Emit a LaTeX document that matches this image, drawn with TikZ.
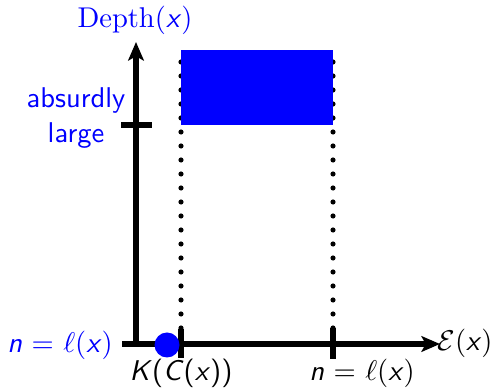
\documentclass[tikz,border=0pt]{standalone}
\usetikzlibrary{arrows.meta}
\newcommand{\sv}[1]{\textsf{\textit{#1}}}
\begin{document}
\begin{tikzpicture}[x=0.35pt,y=-0.35pt,
  axis/.style={line width=1.9pt,-{Stealth[length=6.5pt,width=5.5pt,inset=1.5pt]}},
  tickmark/.style={line width=1.8pt},
  dotline/.style={line width=1.8pt,line cap=round,dash pattern=on 0pt off 4.9pt},
  lbl/.style={inner sep=0pt,font=\sffamily}]
\useasboundingbox (0,0) rectangle (498,389);
% coordinates
\coordinate (O) at (136,344);
\coordinate (ytop) at (136,42);
\coordinate (xs) at (122,344);
\coordinate (xe) at (440,344);
\coordinate (d1t) at (181,62);
\coordinate (d1b) at (181,329);
\coordinate (d2t) at (333,62);
\coordinate (d2b) at (333,329);
\coordinate (vt1) at (121,125);
\coordinate (vt2) at (152,125);
\coordinate (ht1a) at (181,329);
\coordinate (ht1b) at (181,358);
\coordinate (ht2a) at (333,328);
\coordinate (ht2b) at (333,359);
% dotted verticals
\draw[dotline] (d1t) -- (d1b);
\draw[dotline] (d2t) -- (d2b);
% blue region
\fill[blue] (181,50) rectangle (333,125);
% axes
\draw[axis] (O) -- (ytop);
\draw[axis] (xs) -- (xe);
% ticks
\draw[tickmark] (vt1) -- (vt2);
\draw[tickmark] (ht1a) -- (ht1b);
\draw[tickmark] (ht2a) -- (ht2b);
% dot
\fill[blue] (167,345) circle[radius=12.5];
% labels
\node[lbl,text=blue] (depth) at (135,20) {$\mathrm{Depth}(\sv{x})$};
\node[lbl,text=blue,align=center] (absurd) at (76,118) {absurdly\\large};
\node[lbl,text=blue] (nl) at (60,345) {\sv{n} $=$ $\ell(\sv{x})$};
\node[lbl] (kc) at (181,373) {\sv{K}(\sv{C}(\sv{x}))};
\node[lbl] (nr) at (362,373) {\sv{n} $=$ $\ell(\sv{x})$};
\node[lbl] (ex) at (465,343) {$\mathcal{E}(\sv{x})$};
\end{tikzpicture}
\end{document}
